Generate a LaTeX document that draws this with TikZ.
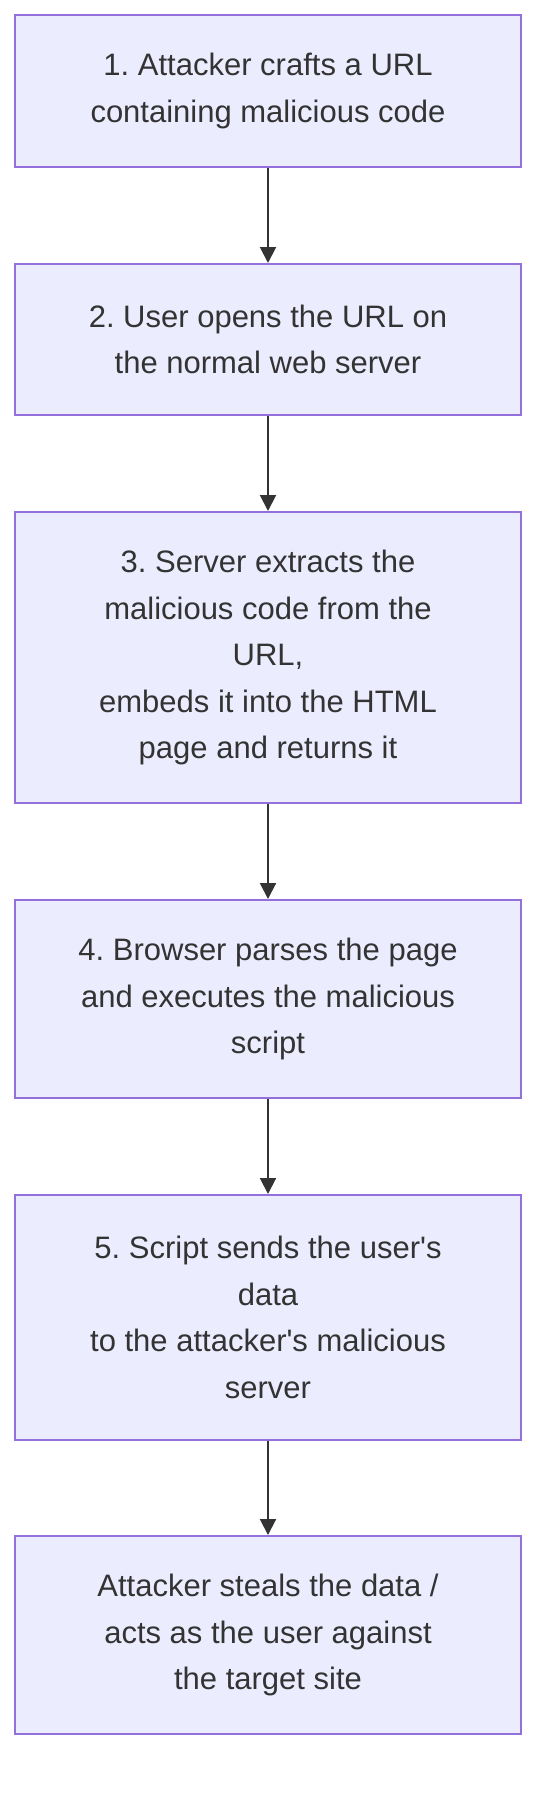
\documentclass[tikz,border=0pt]{standalone}
\usepackage{fontspec}
\setmainfont{Liberation Sans}
\usetikzlibrary{arrows.meta}
\definecolor{boxfill}{HTML}{ECECFF}
\definecolor{boxline}{HTML}{9370DB}
\definecolor{ink}{HTML}{333333}
\frenchspacing

\begin{document}
\begin{tikzpicture}[x=1pt, y=1pt,
		stepbox/.style={rectangle, draw=boxline, fill=boxfill, line width=1pt, minimum width=253pt, text=ink, align=center, inner sep=0pt, font=\fontsize{15.5}{23.25}\selectfont},
		flow/.style={draw=ink, line width=1pt, -{Triangle[length=8pt, width=8pt]}}]
			\useasboundingbox (0,0) rectangle (276,-902);
			\node[stepbox, minimum height=76pt] (s1) at (134,-45.5) {1. Attacker crafts a URL\\containing malicious code};
			\node[stepbox, minimum height=75.5pt] (s2) at (134,-169.75) {2. User opens the URL on\\the normal web server};
			\node[stepbox, minimum height=145.5pt] (s3) at (134,-328.75) {3. Server extracts the\\malicious code from the\\URL,\\embeds it into the HTML\\page and returns it};
			\node[stepbox, minimum height=99pt] (s4) at (134,-499.5) {4. Browser parses the page\\and executes the malicious\\script};
			\node[stepbox, minimum height=122.5pt] (s5) at (134,-658.75) {5. Script sends the user\textquotesingle s\\data\\to the attacker\textquotesingle s malicious\\server};
			\node[stepbox, minimum height=99pt] (s6) at (134,-817.5) {Attacker steals the data /\\acts as the user against\\the target site};
			\draw[flow] (s1) -- (s2);
			\draw[flow] (s2) -- (s3);
			\draw[flow] (s3) -- (s4);
			\draw[flow] (s4) -- (s5);
			\draw[flow] (s5) -- (s6);
		\end{tikzpicture}
\end{document}
